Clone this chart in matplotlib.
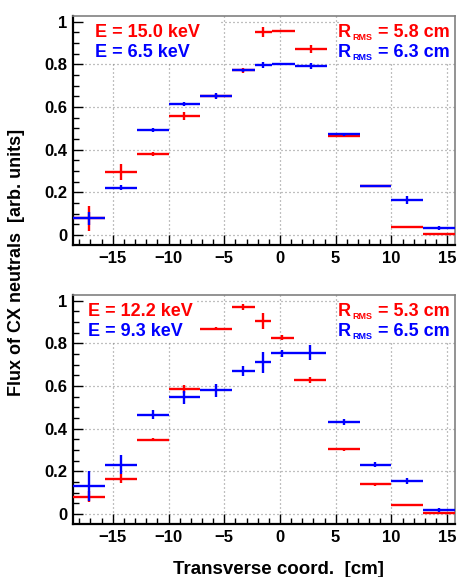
import matplotlib
matplotlib.use('Agg')
import matplotlib.pyplot as plt
from matplotlib.ticker import MultipleLocator, FuncFormatter
from matplotlib.patches import Rectangle

plt.rcParams['font.family'] = ['Liberation Sans', 'DejaVu Sans']
plt.rcParams['font.weight'] = 'bold'

# ---------------- data ----------------
# top panel
x_top = [-17.14, -14.29, -11.43, -8.57, -5.71, -3.29, -1.49, 0.30, 2.76, 5.71, 8.57, 11.43, 14.29]
xerr_top = [1.43, 1.43, 1.43, 1.43, 1.43, 1.05, 0.75, 1.04, 1.42, 1.43, 1.43, 1.43, 1.43]
red_top = [0.078, 0.295, 0.379, 0.558, 0.650, 0.772, 0.951, 0.956, 0.872, 0.466, 0.231, 0.036, 0.003]
red_top_err = [0.059, 0.037, 0.010, 0.018, 0.010, 0.012, 0.022, 0.005, 0.020, 0.006, 0.004, 0.003, 0.002]
blue_top = [0.078, 0.221, 0.491, 0.613, 0.650, 0.772, 0.797, 0.801, 0.792, 0.471, 0.231, 0.165, 0.031]
blue_top_err = [0.031, 0.012, 0.008, 0.008, 0.014, 0.008, 0.015, 0.006, 0.012, 0.006, 0.004, 0.019, 0.010]

# bottom panel
x_bot = [-17.14, -14.29, -11.43, -8.57, -5.71, -3.29, -1.54, 0.21, 2.69, 5.71, 8.57, 11.43, 14.29]
xerr_bot = [1.43, 1.43, 1.43, 1.43, 1.43, 1.05, 0.70, 1.04, 1.43, 1.43, 1.43, 1.43, 1.43]
red_bot = [0.081, 0.165, 0.348, 0.585, 0.869, 0.970, 0.905, 0.826, 0.629, 0.303, 0.139, 0.044, 0.006]
red_bot_err = [0.025, 0.020, 0.007, 0.017, 0.006, 0.012, 0.037, 0.012, 0.014, 0.008, 0.006, 0.003, 0.003]
blue_bot = [0.131, 0.231, 0.465, 0.546, 0.579, 0.671, 0.710, 0.752, 0.755, 0.431, 0.231, 0.153, 0.020]
blue_bot_err = [0.070, 0.044, 0.020, 0.030, 0.030, 0.023, 0.048, 0.015, 0.035, 0.016, 0.012, 0.014, 0.010]

energy_top = ["E = 15.0 keV", "E = 6.5 keV"]
rms_top = ["5.8 cm", "6.3 cm"]
energy_bot = ["E = 12.2 keV", "E = 9.3 keV"]
rms_bot = ["5.3 cm", "6.5 cm"]

xlabel = "Transverse coord.  [cm]"
ylabel = "Flux of CX neutrals  [arb. units]"

RED = '#ff0000'
BLUE = '#0000ff'

W, H = 459, 577
fig = plt.figure(figsize=(W / 100, H / 100), dpi=100)
ax1 = fig.add_axes([73 / W, 1 - 245 / H, 382 / W, 229 / H])
ax2 = fig.add_axes([73 / W, 1 - 524 / H, 382 / W, 229 / H])


def rms_label(ax, x, y, value, color, fs):
    tR = ax.text(x, y, "R", transform=ax.transAxes, color=color, fontsize=fs,
                 fontweight='bold', va='baseline', ha='left', zorder=5)
    tS = ax.annotate("RMS", xy=(1, 0), xycoords=tR, xytext=(1.0, 1.2),
                     textcoords='offset points', color=color, fontsize=6.5,
                     fontweight='bold', va='baseline', ha='left', zorder=5)
    ax.annotate(" = " + value, xy=(1, 0), xycoords=(tS, tR), xytext=(0, 0),
                textcoords='offset points', color=color, fontsize=fs,
                fontweight='bold', va='bottom', ha='left', zorder=5)


def panel(ax, x, xe, r, re, b, be, energies, rms, left_box_end, text_x):
    ax.set_xlim(-18.57, 15.71)
    ax.set_ylim(-0.047, 1.026)
    ax.xaxis.set_major_locator(MultipleLocator(5))
    ax.xaxis.set_minor_locator(MultipleLocator(1))
    ax.yaxis.set_major_locator(MultipleLocator(0.2))
    ax.yaxis.set_minor_locator(MultipleLocator(0.05))
    ax.yaxis.set_major_formatter(FuncFormatter(lambda v, p: '%g' % round(v, 3)))
    ax.tick_params(which='both', direction='in', top=False, right=False,
                   labelsize=12, width=1.0, colors='black')
    ax.tick_params(which='major', length=7, pad=4)
    ax.tick_params(which='minor', length=4)
    for lab in ax.get_xticklabels() + ax.get_yticklabels():
        lab.set_fontweight('bold')
    for s in ('left', 'bottom'):
        ax.spines[s].set_linewidth(1.6)
        ax.spines[s].set_color('black')
    for s in ('top', 'right'):
        ax.spines[s].set_linewidth(1.2)
        ax.spines[s].set_color('#808080')
    x0, x1 = ax.get_xlim()
    y0, y1 = ax.get_ylim()
    gkw = dict(color='#808080', lw=0.9, ls=(0, (0.8, 2.4)), zorder=0.5)
    for v in ax.get_xticks():
        if x0 < v < x1:
            ax.axvline(v, **gkw)
    for v in ax.get_yticks():
        if y0 < v < y1:
            ax.axhline(v, **gkw)
    # white legend panes hiding the grid
    ax.add_patch(Rectangle((x0, 0.81), left_box_end - x0, y1 - 0.81,
                           facecolor='white', edgecolor='none', zorder=1))
    ax.add_patch(Rectangle((5.3, 0.81), x1 - 5.3, y1 - 0.81,
                           facecolor='white', edgecolor='none', zorder=1))
    ax.errorbar(x, r, xerr=xe, yerr=re, fmt='none', ecolor=RED,
                elinewidth=1.7, capsize=0, zorder=3)
    ax.errorbar(x, b, xerr=xe, yerr=be, fmt='none', ecolor=BLUE,
                elinewidth=1.7, capsize=0, zorder=4)
    fs = 13
    ax.text(text_x, 0.907, energies[0], transform=ax.transAxes, color=RED,
            fontsize=fs, fontweight='bold', va='baseline', ha='left', zorder=5)
    ax.text(text_x, 0.819, energies[1], transform=ax.transAxes, color=BLUE,
            fontsize=fs, fontweight='bold', va='baseline', ha='left', zorder=5)
    rms_label(ax, 0.694, 0.907, rms[0], RED, fs)
    rms_label(ax, 0.694, 0.819, rms[1], BLUE, fs)


panel(ax1, x_top, xerr_top, red_top, red_top_err, blue_top, blue_top_err,
      energy_top, rms_top, -5.3, 0.058)
panel(ax2, x_bot, xerr_bot, red_bot, red_bot_err, blue_bot, blue_bot_err,
      energy_bot, rms_bot, -7.5, 0.040)

fig.text(16.7 / W, 1 - 262 / H, ylabel, rotation=90, ha='center', va='center',
         fontsize=13, fontweight='bold')
fig.text(278 / W, 1 - 570 / H, xlabel, ha='center', va='center',
         fontsize=13.5, fontweight='bold')

fig.savefig('out.png', dpi=100, facecolor='white')
